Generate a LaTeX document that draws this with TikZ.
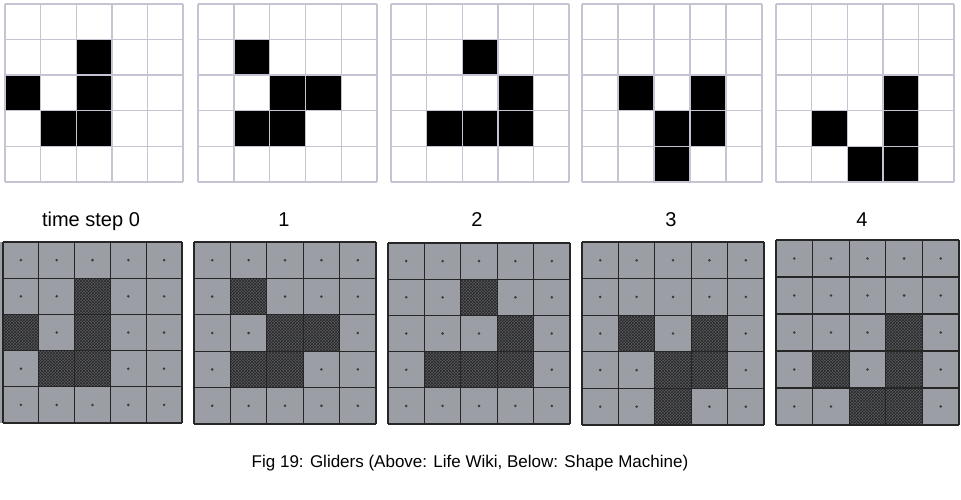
\documentclass[tikz,border=0pt]{standalone}
\usepackage{fontspec}
\setmainfont{Liberation Sans}
\usetikzlibrary{patterns}
\definecolor{lifeline}{HTML}{C6C4D2}
\definecolor{smgray}{HTML}{9B9EA4}
\definecolor{smline}{HTML}{262626}
\definecolor{smdot}{HTML}{3A3A3C}
\definecolor{smdark}{HTML}{5A5C60}
\tikzset{
  lifecell/.style={fill=black},
  lifegridline/.style={draw=lifeline, line width=1.4pt},
  smbg/.style={fill=smgray},
  smgridline/.style={draw=smline, line width=1.3pt},
  smdotstyle/.style={fill=smdot},
  smhatch/.style={fill=smdark},
  smhatchpat/.style={pattern=crosshatch, pattern color=black!85},
  steplabel/.style={font=\fontsize{20}{23}\selectfont, anchor=base, inner sep=0pt},
  captionlabel/.style={font=\fontsize{17}{20}\selectfont, anchor=base, inner sep=0pt}
}
% #1 x0, #2 y0, #3 width, #4 height, #5 alive cells r/c
\newcommand\lifegrid[5]{%
  \foreach \r/\c in {#5} {
    \fill[lifecell] ({#1+\c*#3/5},{#2+\r*#4/5}) rectangle ({#1+(\c+1)*#3/5},{#2+(\r+1)*#4/5});
  }
  \foreach \k in {0,...,5} {
    \draw[lifegridline] ({#1+\k*#3/5},#2) -- ({#1+\k*#3/5},{#2+#4});
    \draw[lifegridline] (#1,{#2+\k*#4/5}) -- ({#1+#3},{#2+\k*#4/5});
  }
}
\newcommand\shapegrid[5]{%
  \fill[smbg] (#1,#2) rectangle ({#1+#3},{#2+#4});
  \foreach \r in {0,...,4} {
    \foreach \c in {0,...,4} {
      \fill[smdotstyle] ({#1+(\c+0.5)*#3/5},{#2+(\r+0.5)*#4/5}) circle (1.4pt);
    }
  }
  \foreach \r/\c in {#5} {
    \fill[smhatch] ({#1+\c*#3/5},{#2+\r*#4/5}) rectangle ({#1+(\c+1)*#3/5},{#2+(\r+1)*#4/5});
    \fill[smhatchpat] ({#1+\c*#3/5},{#2+\r*#4/5}) rectangle ({#1+(\c+1)*#3/5},{#2+(\r+1)*#4/5});
  }
  \foreach \k in {0,...,5} {
    \draw[smgridline] ({#1+\k*#3/5},#2) -- ({#1+\k*#3/5},{#2+#4});
    \draw[smgridline] (#1,{#2+\k*#4/5}) -- ({#1+#3},{#2+\k*#4/5});
  }
}
\begin{document}
\begin{tikzpicture}[x=1pt,y=-1pt]
\useasboundingbox[fill=white] (0,0) rectangle (961,500);
% top: Life Wiki
\lifegrid{5}{4}{178}{178}{1/2,2/0,2/2,3/1,3/2}
\lifegrid{198}{4}{179}{178}{1/1,2/2,2/3,3/1,3/2}
\lifegrid{391}{4}{178}{178}{1/2,2/3,3/1,3/2,3/3}
\lifegrid{582}{4}{180}{178}{2/1,2/3,3/2,3/3,4/2}
\lifegrid{776}{4}{178}{178}{2/3,3/1,3/3,4/2,4/3}
% labels
\node[steplabel] (t0) at (91,226) {time step 0};
\node[steplabel] (t1) at (284,226) {1};
\node[steplabel] (t2) at (477,226) {2};
\node[steplabel] (t3) at (671,226) {3};
\node[steplabel] (t4) at (862,226) {4};
% bottom: Shape Machine
\fill[smbg] (0,242) rectangle (3,423);
\shapegrid{3}{242}{179}{181}{1/2,2/0,2/2,3/1,3/2}
\shapegrid{194}{242}{182}{182}{1/1,2/2,2/3,3/1,3/2}
\shapegrid{388}{243}{182}{181}{1/2,2/3,3/1,3/2,3/3}
\shapegrid{582}{242}{182}{183}{2/1,2/3,3/2,3/3,4/2}
\shapegrid{776}{240}{183}{185}{2/3,3/1,3/3,4/2,4/3}
% caption
\node[captionlabel] (cap) at (470,467) {Fig 19: Gliders (Above: Life Wiki, Below: Shape Machine)};
\end{tikzpicture}
\end{document}
